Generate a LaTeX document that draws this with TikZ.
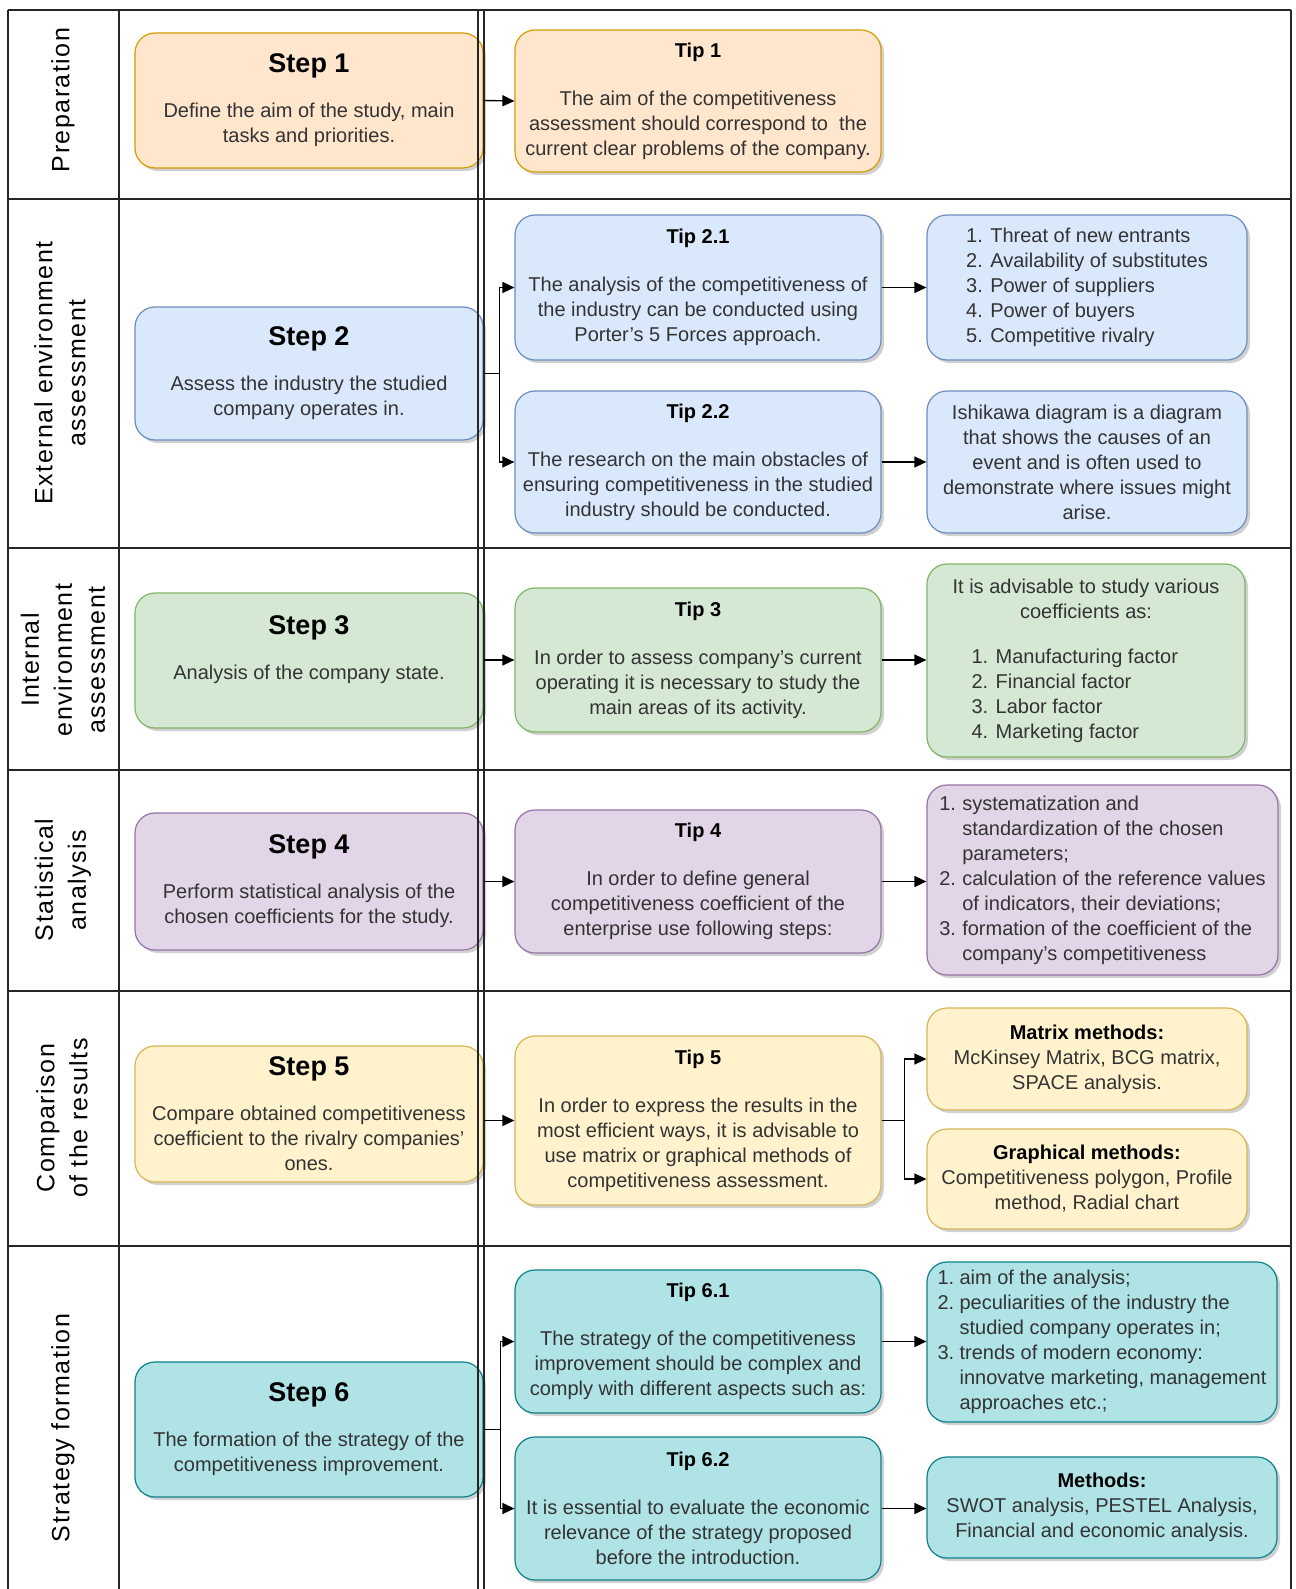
\documentclass[tikz,border=0pt]{standalone}
\usepackage{fontspec}
\setmainfont{Liberation Sans}
\newfontfamily\labfont[LetterSpace=6]{Liberation Sans}
\usetikzlibrary{arrows.meta,shadows}
\definecolor{oF}{HTML}{FFE6CC}\definecolor{oD}{HTML}{D79B00}
\definecolor{bF}{HTML}{DAE8FC}\definecolor{bD}{HTML}{6C8EBF}
\definecolor{gF}{HTML}{D5E8D4}\definecolor{gD}{HTML}{82B366}
\definecolor{pF}{HTML}{E1D5E7}\definecolor{pD}{HTML}{9673A6}
\definecolor{yF}{HTML}{FFF2CC}\definecolor{yD}{HTML}{D6B656}
\definecolor{cF}{HTML}{B0E3E6}\definecolor{cD}{HTML}{0E8088}
\definecolor{txt}{HTML}{333333}
\newcommand{\stt}[1]{{\fontsize{13.5}{15}\selectfont\bfseries\color{black}#1}}
\newcommand{\tpt}[1]{{\bfseries\color{black}#1}}
\begin{document}
\begin{tikzpicture}[x=0.5pt,y=-0.5pt,
  box/.style={draw, rounded corners=10pt, line width=0.6pt, align=center, inner sep=0pt,
    font=\fontsize{10}{12.5}\selectfont, text=txt,
    drop shadow={shadow xshift=1.5pt, shadow yshift=-1.5pt, opacity=0.3, fill=black!60}},
  obox/.style={box, fill=oF, draw=oD},
  bbox/.style={box, fill=bF, draw=bD},
  gbox/.style={box, fill=gF, draw=gD},
  pbox/.style={box, fill=pF, draw=pD},
  ybox/.style={box, fill=yF, draw=yD},
  cbox/.style={box, fill=cF, draw=cD},
  stepbox/.style={minimum width=174pt},
  tipbox/.style={minimum width=183pt},
  lab/.style={rotate=90, align=center, inner sep=0pt, font=\labfont\fontsize{12.5}{16.5}\selectfont},
  arr/.style={-{Triangle[length=6pt,width=5.5pt]}, line width=0.7pt},
  grid/.style={line width=0.8pt, draw=black!85}]
\useasboundingbox (0,0) rectangle (1295,1589);
\fill[white] (0,0) rectangle (1295,1589);
% table
\foreach \yy in {10,199,548,770,991,1246} \draw[grid] (8,\yy) -- (1291,\yy);
\foreach \xx in {8,119,1291} \draw[grid] (\xx,10) -- (\xx,1589);
% labels
\node[lab] (l1) at (63,100) {Preparation};
\node[lab] (l2) at (60,373) {External environment\\assessment};
\node[lab] (l3) at (63,660) {Internal\\environment\\assessment};
\node[lab] (l4) at (63,880) {Statistical\\analysis};
\node[lab] (l5) at (62,1118) {Comparison\\of the results};
\node[lab] (l6) at (63,1428) {Strategy formation};
% steps
\node[obox, stepbox, minimum height=67.5pt] (s1) at (309,100.5) {\stt{Step 1}\\[10pt]Define the aim of the study, main\\tasks and priorities.};
\node[bbox, stepbox, minimum height=66.5pt] (s2) at (309,373.5) {\stt{Step 2}\\[10pt]Assess the industry the studied\\company operates in.};
\node[gbox, stepbox, minimum height=67.5pt] (s3) at (309,660.5) {\stt{Step 3}\\[10pt]Analysis of the company state.\\\mbox{}};
\node[pbox, stepbox, minimum height=68.5pt] (s4) at (309,881.5) {\stt{Step 4}\\[10pt]Perform statistical analysis of the\\chosen coefficients for the study.};
\node[ybox, stepbox, minimum height=68pt] (s5) at (309,1114) {\stt{Step 5}\\[10pt]Compare obtained competitiveness\\coefficient to the rivalry companies'\\ones.};
\node[cbox, stepbox, minimum height=67.5pt] (s6) at (309,1429.5) {\stt{Step 6}\\[10pt]The formation of the strategy of the\\competitiveness improvement.};
% tips
\node[obox, tipbox, minimum height=71pt] (t1) at (698,101) {\tpt{Tip 1}\\[11.5pt]The aim of the competitiveness\\assessment should correspond to\ \ the\\current clear problems of the company.};
\node[bbox, tipbox, minimum height=72.5pt] (t21) at (698,287.5) {\tpt{Tip 2.1}\\[11.5pt]The analysis of the competitiveness of\\the industry can be conducted using\\Porter's 5 Forces approach.};
\node[bbox, tipbox, minimum height=71pt] (t22) at (698,462) {\tpt{Tip 2.2}\\[11.5pt]The research on the main obstacles of\\ensuring competitiveness in the studied\\industry should be conducted.};
\node[gbox, tipbox, minimum height=72pt] (t3) at (698,660) {\tpt{Tip 3}\\[11.5pt]In order to assess company's current\\operating it is necessary to study the\\main areas of its activity.};
\node[pbox, tipbox, minimum height=71.5pt] (t4) at (698,881.5) {\tpt{Tip 4}\\[11.5pt]In order to define general\\competitiveness coefficient of the\\enterprise use following steps:};
\node[ybox, tipbox, minimum height=84.5pt] (t5) at (698,1120.5) {\tpt{Tip 5}\\[11.5pt]In order to express the results in the\\most efficient ways, it is advisable to\\use matrix or graphical methods of\\competitiveness assessment.};
\node[cbox, tipbox, minimum height=71.5pt] (t61) at (698,1341.5) {\tpt{Tip 6.1}\\[11.5pt]The strategy of the competitiveness\\improvement should be complex and\\comply with different aspects such as:};
\node[cbox, tipbox, minimum height=71.5pt] (t62) at (698,1508.5) {\tpt{Tip 6.2}\\[11.5pt]It is essential to evaluate the economic\\relevance of the strategy proposed\\before the introduction.};
% right column
\node[bbox, minimum width=160pt, minimum height=72.5pt] (r21) at (1087,287.5) {\begin{tabular}{@{}l@{}}1. Threat of new entrants\\2. Availability of substitutes\\3. Power of suppliers\\4. Power of buyers\\5. Competitive rivalry\end{tabular}};
\node[bbox, minimum width=160pt, minimum height=71pt] (r22) at (1087,462) {Ishikawa diagram is a diagram\\that shows the causes of an\\event and is often used to\\demonstrate where issues might\\arise.};
\node[gbox, minimum width=159pt, minimum height=96.5pt] (r3) at (1086,660.5) {\begin{tabular}{@{}l@{}}\multicolumn{1}{@{}c@{}}{It is advisable to study various}\\\multicolumn{1}{@{}c@{}}{coefficients as:}\\[10pt]\hspace{9.5pt}1. Manufacturing factor\\\hspace{9.5pt}2. Financial factor\\\hspace{9.5pt}3. Labor factor\\\hspace{9.5pt}4. Marketing factor\end{tabular}};
\node[pbox, minimum width=175.5pt, minimum height=95pt] (r4) at (1102.5,880) {\begin{tabular}{@{}p{11.5pt}@{}l@{}}1.&systematization and\\&standardization of the chosen\\&parameters;\\2.&calculation of the reference values\\&of indicators, their deviations;\\3.&formation of the coefficient of the\\&company's competitiveness\end{tabular}};
\node[ybox, minimum width=160pt, minimum height=51pt] (r5a) at (1087,1059) {\tpt{Matrix methods:}\\McKinsey Matrix, BCG matrix,\\SPACE analysis.};
\node[ybox, minimum width=160pt, minimum height=50pt] (r5b) at (1087,1179) {\tpt{Graphical methods:}\\Competitiveness polygon, Profile\\method, Radial chart};
\node[cbox, minimum width=175pt, minimum height=80pt] (r6a) at (1102,1342) {\begin{tabular}{@{}p{11pt}@{}l@{}}1.&aim of the analysis;\\2.&peculiarities of the industry the\\&studied company operates in;\\3.&trends of modern economy:\\&innovatve marketing, management\\&approaches etc.;\end{tabular}};
\node[cbox, minimum width=175pt, minimum height=50.5pt] (r6b) at (1102,1507.5) {\tpt{Methods:}\\SWOT analysis, PESTEL Analysis,\\Financial and economic analysis.};
% double line
\draw[grid] (478,10) -- (478,1589);
\draw[grid] (484,10) -- (484,1589);
% connectors
\draw[arr] (s1.east) -- (t1.west);
\draw[arr] (s2.east) -- ++(16,0) |- (t21.west);
\draw[arr] (s2.east) -- ++(16,0) |- (t22.west);
\draw[arr] (t21.east) -- (r21.west);
\draw[arr] (t22.east) -- (r22.west);
\draw[arr] (t3.west -| s3.east) -- (t3.west);
\draw[arr] (t3.east) -- (t3.east -| r3.west);
\draw[arr] (s4.east) -- (t4.west);
\draw[arr] (t4.east) -- (t4.east -| r4.west);
\draw[arr] (t5.west -| s5.east) -- (t5.west);
\draw[arr] (t5.east) -- ++(23,0) |- (r5a.west);
\draw[arr] (t5.east) -- ++(23,0) |- (r5b.west);
\draw[arr] (s6.east) -- ++(17,0) |- (t61.west);
\draw[arr] (s6.east) -- ++(17,0) |- (t62.west);
\draw[arr] (t61.east) -- (t61.east -| r6a.west);
\draw[arr] (t62.east) -- (t62.east -| r6b.west);
\end{tikzpicture}
\end{document}
